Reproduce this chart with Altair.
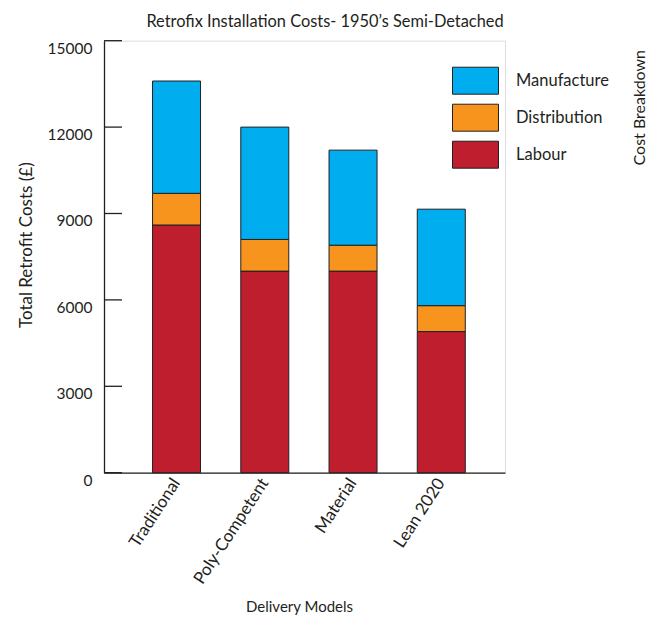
import altair as alt
import pandas as pd

title_text = "Retrofix Installation Costs- 1950\u2019s Semi-Detached"
models = ["Traditional", "Poly-Competent", "Material", "Lean 2020"]
series = ["Manufacture", "Distribution", "Labour"]
colors = ["#00AEEF", "#F7941D", "#BE1E2D"]
labour = [8600, 7000, 7000, 4900]
distribution = [1100, 1100, 900, 900]
manufacture = [3900, 3900, 3300, 3350]
y_ticks = [0, 3000, 6000, 9000, 12000, 15000]
legend_title = "Cost Breakdown"

rows = []
for i, m in enumerate(models):
    rows.append({"model": m, "part": "Labour", "cost": labour[i], "ord": 0})
    rows.append({"model": m, "part": "Distribution", "cost": distribution[i], "ord": 1})
    rows.append({"model": m, "part": "Manufacture", "cost": manufacture[i], "ord": 2})
df = pd.DataFrame(rows)

FONT = "Lato"
INK = "#231F20"

xscale = alt.Scale(domain=models, paddingInner=0.456, paddingOuter=0.5, align=0.55)
yscale = alt.Scale(domain=[0, 15000], nice=False)

bars = alt.Chart(df).mark_bar(stroke=INK, strokeWidth=1).encode(
    x=alt.X("model:N", scale=xscale, sort=models,
            axis=alt.Axis(title="Delivery Models", labelAngle=303, ticks=False, tickSize=0,
                          labelPadding=7, labelFontSize=17, labelFont=FONT, labelColor=INK,
                          domainColor=INK, domainWidth=1.3,
                          titleFont=FONT, titleFontSize=15, titleFontWeight="normal",
                          titleColor=INK, titleX=195, titleY=134, titleBaseline="middle")),
    y=alt.Y("cost:Q", scale=yscale, stack="zero",
            axis=alt.Axis(title="Total Retrofit Costs (\u00a3)", values=y_ticks, format="d",
                          ticks=False, tickSize=0, grid=False, labelPadding=12, labelOffset=7.5,
                          labelFontSize=15.5, labelFont=FONT, labelColor=INK,
                          domainColor=INK, domainWidth=1.3,
                          titleFont=FONT, titleFontSize=17, titleFontWeight="normal",
                          titleColor=INK, titleX=-69, titleY=204)),
    color=alt.Color("part:N", scale=alt.Scale(domain=series, range=colors),
                    legend=alt.Legend(title=None, orient="none", legendX=355.5, legendY=24,
                                      padding=0, rowPadding=5, labelOffset=24.5,
                                      symbolType="M-1.5,-0.88H1.5V0.88H-1.5Z", symbolSize=940,
                                      symbolStrokeColor=INK, symbolStrokeWidth=1,
                                      symbolOpacity=1, labelFontSize=16.5, labelFont=FONT,
                                      labelColor=INK)),
    order=alt.Order("ord:Q"),
)

tick_df = pd.DataFrame({"v": y_ticks})
ticks = alt.Chart(tick_df).mark_rule(color=INK, strokeWidth=1.3).encode(
    y=alt.Y("v:Q", scale=yscale),
    x=alt.value(0),
    x2=alt.value(18),
)

lt_df = pd.DataFrame({"t": [legend_title]})
ltitle = alt.Chart(lt_df).mark_text(angle=270, align="center", baseline="middle",
                                    font=FONT, fontSize=16, color=INK).encode(
    text="t:N",
    x=alt.value(536),
    y=alt.value(67),
)

chart = alt.layer(bars, ticks, ltitle).properties(
    width=401,
    height=432,
    title=alt.TitleParams(title_text, anchor="middle", frame="group", dx=20.5, dy=16,
                          font=FONT, fontSize=16.4, fontWeight="normal", color=INK,
                          baseline="alphabetic", offset=13),
    autosize=alt.AutoSizeParams(type="none"),
    padding={"left": 96, "top": 32.7, "right": 144, "bottom": 144},
).configure_view(stroke=None).configure(background="white")

chart.save("out.html", embed_options={"renderer": "svg", "actions": False})
